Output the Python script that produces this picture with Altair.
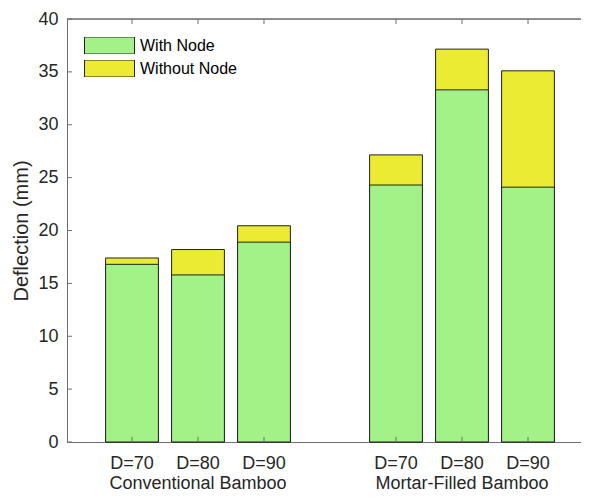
import altair as alt
import pandas as pd

# ---- data ----
groups = ["Conventional Bamboo", "Mortar-Filled Bamboo"]
diameters = ["D=70", "D=80", "D=90"]
with_node = [16.8, 15.8, 18.9, 24.3, 33.3, 24.1]
without_node = [17.4, 18.2, 20.45, 27.15, 37.15, 35.1]
y_ticks = [0, 5, 10, 15, 20, 25, 30, 35, 40]
series = ["With Node", "Without Node"]
colors = ["#a2f288", "#ebeb33"]

slots = [f"{g}|{d}" for g in groups for d in diameters]
x_domain = slots[:3] + ["gap"] + slots[3:]

df = pd.DataFrame({
    "slot": slots,
    "With Node": with_node,
    "Without Node": without_node,
})
df_groups = pd.DataFrame({"group": groups, "slot": [slots[1], slots[4]]})
df_yt = pd.DataFrame({"v": y_ticks})

W, H = 514, 423
FONT = "Liberation Sans"
AX = "#6e6e6e"
TXT = "#262626"

xscale = alt.Scale(domain=x_domain, paddingInner=0.2, paddingOuter=0.4939, align=0.592)
yscale = alt.Scale(domain=[0, 40], nice=False, zero=True)

x_enc = alt.X(
    "slot:N", scale=xscale, title=None,
    axis=alt.Axis(values=slots, labelExpr="split(datum.value, '|')[1]",
                  tickSize=0, labelFontSize=18, labelPadding=12, labelAngle=0,
                  labelColor=TXT, domainColor=AX, labelFont=FONT, orient="bottom"),
)

bars = (
    alt.Chart(df)
    .transform_fold(["Without Node", "With Node"], as_=["series", "value"])
    .mark_bar(stroke="#222222", strokeWidth=1)
    .encode(
        x=x_enc,
        y=alt.Y("value:Q", stack=None, scale=yscale,
                axis=alt.Axis(values=y_ticks, tickSize=0, labelFontSize=18, labelPadding=9,
                              labelColor=TXT, domainColor=AX, grid=False, orient="left",
                              title="Deflection (mm)", titleFontSize=20,
                              titleFontWeight="normal", titleColor=TXT, titlePadding=6,
                              labelFont=FONT, titleFont=FONT)),
        color=alt.Color(
            "series:N",
            scale=alt.Scale(domain=series, range=colors),
            legend=alt.Legend(
                title=None, orient="none", legendX=17, legendY=18, padding=0,
                symbolType="M-1,-0.34L1,-0.34L1,0.34L-1,0.34Z", symbolSize=2500,
                symbolStrokeColor="#222222", symbolStrokeWidth=1, symbolOpacity=1,
                clipHeight=17, rowPadding=6, labelFontSize=16, labelOffset=5,
                labelColor="#000000", labelFont=FONT,
            ),
        ),
    )
)

ytick_rules = alt.Chart(df_yt).mark_rule(color=AX, strokeWidth=1).encode(
    y=alt.Y("v:Q", scale=yscale, axis=None), x=alt.value(0), x2=alt.value(5)
)
xtick_bottom = alt.Chart(df).mark_rule(color=AX, strokeWidth=1).encode(
    x=alt.X("slot:N", scale=xscale, axis=None), y=alt.value(H), y2=alt.value(H - 5)
)
xtick_top = alt.Chart(df).mark_rule(color=AX, strokeWidth=1).encode(
    x=alt.X("slot:N", scale=xscale, axis=None), y=alt.value(0), y2=alt.value(5)
)
frame_top = alt.Chart(df_groups).mark_rule(color=AX, strokeWidth=1).encode(
    x=alt.value(0), x2=alt.value(W), y=alt.value(0)
)
group_labels = alt.Chart(df_groups).mark_text(
    fontSize=18, font=FONT, color=TXT, baseline="alphabetic"
).encode(
    x=alt.X("slot:N", scale=xscale, axis=None), y=alt.value(470), text="group:N"
)

chart = (
    alt.layer(bars, ytick_rules, xtick_bottom, xtick_top, frame_top, group_labels)
    .resolve_axis(x="independent", y="independent")
    .properties(width=W, height=H, autosize=alt.AutoSizeParams(type="none"),
                padding={"left": 59, "top": 11, "right": 0, "bottom": 51})
    .configure_view(stroke=None)
    .configure(font=FONT)
)

chart.save("out.html", embed_options={"renderer": "svg", "actions": False})
